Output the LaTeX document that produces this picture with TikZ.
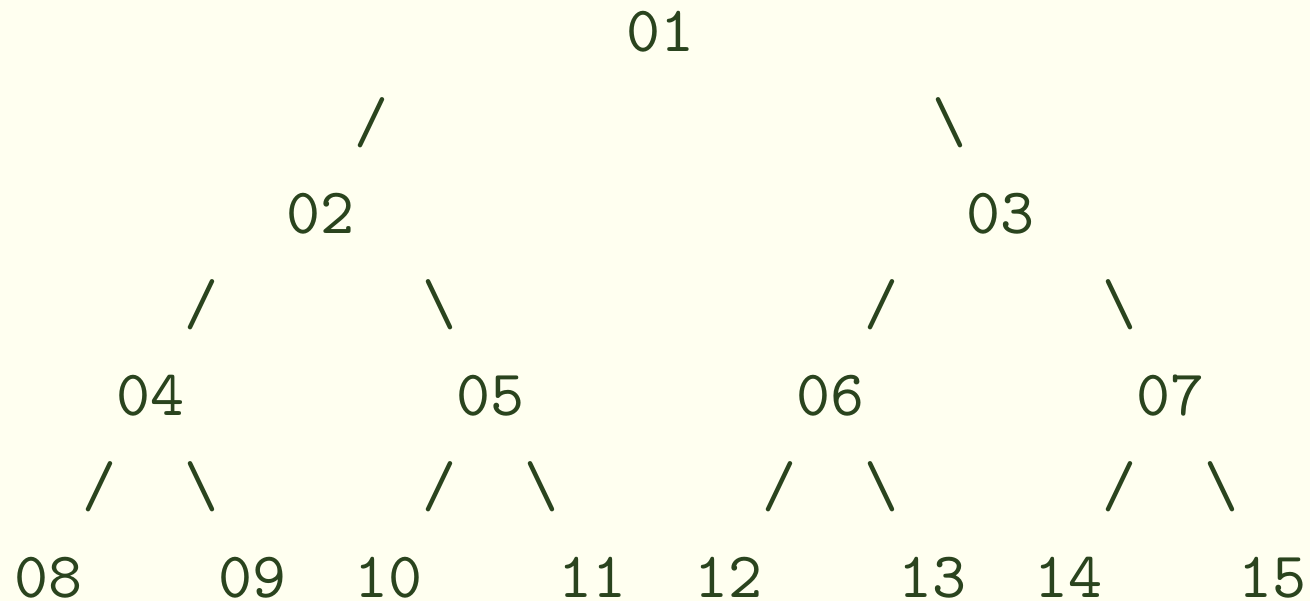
\documentclass[tikz,border=0pt]{standalone}
\usepackage{fontspec}
\definecolor{bgcol}{RGB}{255,255,240}
\definecolor{txtcol}{RGB}{42,68,30}
\begin{document}
\begin{tikzpicture}[x=0.154412pt,y=-0.154412pt,
  t/.style={anchor=base west,inner sep=0pt,outer sep=0pt,text=txtcol,font=\fontsize{10}{12}\selectfont\ttfamily}]
\fill[bgcol] (0,0) rectangle (1310,601);
\useasboundingbox (0,0) rectangle (1310,601);
% line 1
\node[t] (n01) at (626,51.5) {01};
% line 2
\node[t] (a1) at (354,142.5) {/};
\node[t] (a2) at (932,142.5) {\textbackslash};
% line 3
\node[t] (n02) at (286,233.5) {02};
\node[t] (n03) at (966,233.5) {03};
% line 4
\node[t] (b1) at (184,324.5) {/};
\node[t] (b2) at (422,324.5) {\textbackslash};
\node[t] (b3) at (864,324.5) {/};
\node[t] (b4) at (1102,324.5) {\textbackslash};
% line 5
\node[t] (n04) at (116,415.5) {04};
\node[t] (n05) at (456,415.5) {05};
\node[t] (n06) at (796,415.5) {06};
\node[t] (n07) at (1136,415.5) {07};
% line 6
\node[t] (c1) at (82,506.5) {/};
\node[t] (c2) at (184,506.5) {\textbackslash};
\node[t] (c3) at (422,506.5) {/};
\node[t] (c4) at (524,506.5) {\textbackslash};
\node[t] (c5) at (762,506.5) {/};
\node[t] (c6) at (864,506.5) {\textbackslash};
\node[t] (c7) at (1102,506.5) {/};
\node[t] (c8) at (1204,506.5) {\textbackslash};
% line 7
\node[t] (n08) at (14,597.5) {08};
\node[t] (n09) at (218,597.5) {09};
\node[t] (n10) at (354,597.5) {10};
\node[t] (n11) at (558,597.5) {11};
\node[t] (n12) at (694,597.5) {12};
\node[t] (n13) at (898,597.5) {13};
\node[t] (n14) at (1034,597.5) {14};
\node[t] (n15) at (1238,597.5) {15};
\end{tikzpicture}
\end{document}
